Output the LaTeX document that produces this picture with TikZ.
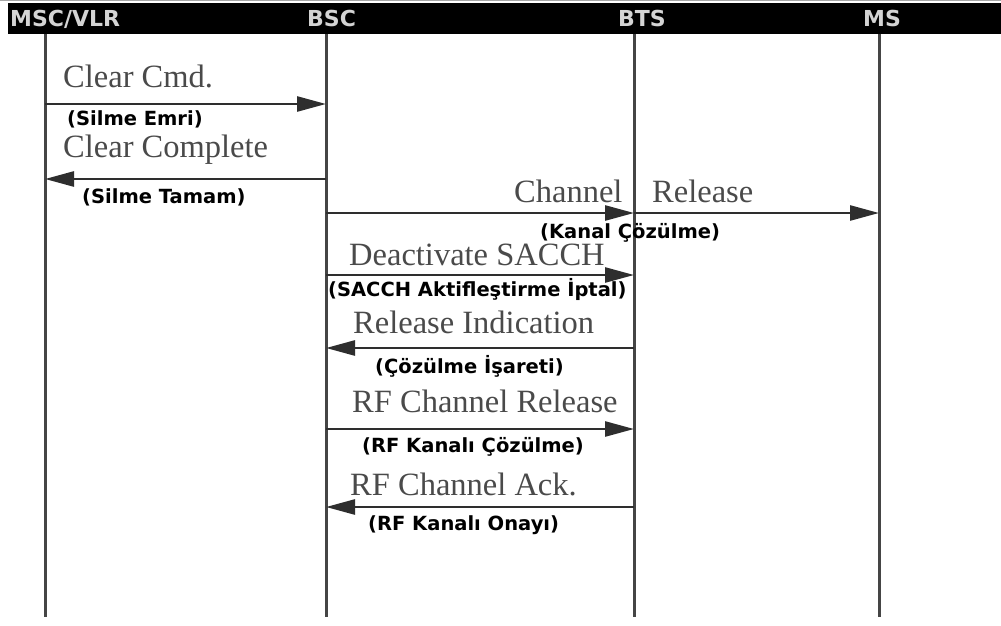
\documentclass[tikz,border=0pt]{standalone}
\usepackage{fontspec}
\setmainfont{Liberation Serif}
\newfontfamily\lblfont{DejaVu Sans}
\usetikzlibrary{arrows.meta}
\definecolor{lifegray}{HTML}{454545}
\definecolor{arrgray}{HTML}{2E2E2E}
\definecolor{txtgray}{HTML}{4A4A4A}
\definecolor{hdgray}{HTML}{D4D4D4}
\begin{document}
\begin{tikzpicture}[x=1pt,y=-1pt,
  life/.style={draw=lifegray,line width=3pt},
  msg/.style={draw=arrgray,line width=2.6pt,-{Triangle[length=29pt,width=15pt]}},
  en/.style={anchor=base west,inner sep=0pt,text=txtgray,font=\fontsize{32.5}{33}\selectfont},
  tr/.style={anchor=base west,inner sep=0pt,text=black,font=\lblfont\bfseries\fontsize{19.5}{20}\selectfont},
  hd/.style={anchor=base west,inner sep=0pt,text=hdgray,font=\lblfont\bfseries\fontsize{22}{22}\selectfont}]
\useasboundingbox (0,0) rectangle (1001,626);
\fill[white] (0,0) rectangle (1001,626);
\draw[black!35,line width=1pt] (0,0.8) -- (1001,0.8);
\fill[black] (8,3) rectangle (1001,34);
% headers
\node[hd] (hmsc) at (10,27) {MSC/VLR};
\node[hd] (hbsc) at (307,27) {BSC};
\node[hd] (hbts) at (618,27) {BTS};
\node[hd] (hms) at (863,27) {MS};
% lifelines
\coordinate (mscT) at (45,34);  \coordinate (mscB) at (45,617);
\coordinate (bscT) at (326,34); \coordinate (bscB) at (326,617);
\coordinate (btsT) at (634,34); \coordinate (btsB) at (634,617);
\coordinate (msT) at (879,34);  \coordinate (msB) at (879,617);
\draw[life] (mscT) -- (mscB);
\draw[life] (bscT) -- (bscB);
\draw[life] (btsT) -- (btsB);
\draw[life] (msT) -- (msB);
% message points
\coordinate (msc1) at (45,104);  \coordinate (bsc1) at (326,104);
\coordinate (msc2) at (45,179);  \coordinate (bsc2) at (326,179);
\coordinate (bsc3) at (326,213); \coordinate (bts3) at (634,213); \coordinate (ms3) at (879,213);
\coordinate (bsc4) at (326,275); \coordinate (bts4) at (634,275);
\coordinate (bsc5) at (326,348); \coordinate (bts5) at (634,348);
\coordinate (bsc6) at (326,429); \coordinate (bts6) at (634,429);
\coordinate (bsc7) at (326,507); \coordinate (bts7) at (634,507);
% messages
\draw[msg] (msc1) -- (bsc1);
\draw[msg] (bsc2) -- (msc2);
\draw[msg] (bsc3) -- (bts3);
\draw[msg] (bts3) -- (ms3);
\draw[msg] (bsc4) -- (bts4);
\draw[msg] (bts5) -- (bsc5);
\draw[msg] (bsc6) -- (bts6);
\draw[msg] (bts7) -- (bsc7);
% labels
\node[en] (l1) at (63,87) {Clear Cmd.};
\node[tr] (t1) at (67,125) {(Silme Emri)};
\node[en] (l2) at (63,157) {Clear Complete};
\node[tr] (t2) at (82,203) {(Silme Tamam)};
\node[en] (l3a) at (514,202) {Channel};
\node[en] (l3b) at (652,202) {Release};
\node[tr] (t3) at (540,238) {(Kanal Çözülme)};
\node[en] (l4) at (349,265) {Deactivate SACCH};
\node[tr] (t4) at (328,296) {(SACCH Aktifleştirme İptal)};
\node[en] (l5) at (353,333) {Release Indication};
\node[tr] (t5) at (375,373) {(Çözülme İşareti)};
\node[en] (l6) at (352,412) {RF Channel Release};
\node[tr] (t6) at (362,452) {(RF Kanalı Çözülme)};
\node[en] (l7) at (350,495) {RF Channel Ack.};
\node[tr] (t7) at (368,530) {(RF Kanalı Onayı)};
\end{tikzpicture}
\end{document}
